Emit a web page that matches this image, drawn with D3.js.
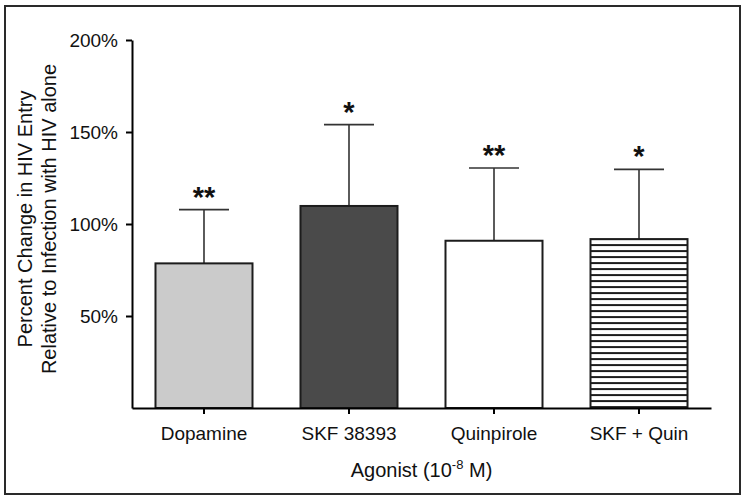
<!DOCTYPE html>
<html>
<head>
<meta charset="utf-8">
<script src="https://cdn.jsdelivr.net/npm/d3@7"></script>
<style>
  html, body { margin: 0; padding: 0; background: #fff; }
  svg text { font-family: "Liberation Sans", Arial, Helvetica, sans-serif; fill: #111; }
</style>
</head>
<body>
<svg id="chart" width="747" height="501"></svg>
<script>
// Data (percent of HIV-alone infection)
const agonists = ['Dopamine', 'SKF 38393', 'Quinpirole', 'SKF + Quin'];
const meanPct = [78.6, 109.8, 90.9, 91.8];
const errPct = [29.2, 44.2, 39.5, 37.9];
const stars = ['**', '*', '**', '*'];
const yTicks = [50, 100, 150, 200];

const BAR_FILLS = ['#cbcbcb', '#4a4a4a', '#ffffff', 'url(#stripes)'];
const INK = '#1c1c1c';

const svg = d3.select('#chart');

// outer frame
svg.append('rect')
  .attr('x', 5).attr('y', 6)
  .attr('width', 735).attr('height', 488)
  .attr('fill', 'none')
  .attr('stroke', '#2a2a2a')
  .attr('stroke-width', 2);

const x = d3.scaleBand()
  .domain(agonists)
  .range([132, 711])
  .paddingInner(0.331)
  .paddingOuter(0.162);

const y = d3.scaleLinear()
  .domain([0, 200])
  .range([408, 40]);

// horizontal stripe pattern for the combined agonist bar
const stripeTop = y(meanPct[3]);
const pat = svg.append('defs').append('pattern')
  .attr('id', 'stripes')
  .attr('patternUnits', 'userSpaceOnUse')
  .attr('x', 0).attr('y', stripeTop - 1)
  .attr('width', 8).attr('height', 6);
pat.append('rect').attr('width', 8).attr('height', 6).attr('fill', '#fff');
pat.append('rect').attr('y', 0).attr('width', 8).attr('height', 2).attr('fill', INK);

const g = svg.append('g');

// error bars (upper only), drawn first so bar outline sits on top
const errs = g.selectAll('.err')
  .data(agonists)
  .join('g')
  .attr('class', 'err');

errs.append('line')
  .attr('x1', d => x(d) + x.bandwidth() / 2)
  .attr('x2', d => x(d) + x.bandwidth() / 2)
  .attr('y1', (d, i) => y(meanPct[i]))
  .attr('y2', (d, i) => y(meanPct[i] + errPct[i]))
  .attr('stroke', '#333')
  .attr('stroke-width', 1.6);

errs.append('line')
  .attr('x1', d => x(d) + x.bandwidth() / 2 - 25)
  .attr('x2', d => x(d) + x.bandwidth() / 2 + 25)
  .attr('y1', (d, i) => y(meanPct[i] + errPct[i]))
  .attr('y2', (d, i) => y(meanPct[i] + errPct[i]))
  .attr('stroke', '#333')
  .attr('stroke-width', 1.6);

// bars
g.selectAll('.bar')
  .data(agonists)
  .join('rect')
  .attr('class', 'bar')
  .attr('x', d => x(d))
  .attr('y', (d, i) => y(meanPct[i]))
  .attr('width', x.bandwidth())
  .attr('height', (d, i) => y(0) - y(meanPct[i]))
  .attr('fill', (d, i) => BAR_FILLS[i])
  .attr('stroke', INK)
  .attr('stroke-width', 2);

// significance stars
g.selectAll('.star')
  .data(agonists)
  .join('text')
  .attr('class', 'star')
  .attr('x', d => x(d) + x.bandwidth() / 2)
  .attr('y', (d, i) => y(meanPct[i] + errPct[i]) - 3)
  .attr('text-anchor', 'middle')
  .attr('font-size', '29px')
  .attr('font-weight', 'bold')
  .text((d, i) => stars[i]);

// axes
const yAxis = svg.append('g')
  .attr('transform', 'translate(132,0)')
  .call(d3.axisLeft(y).tickValues(yTicks).tickFormat(d => d + '%')
    .tickSize(6).tickSizeOuter(0).tickPadding(8));

const xAxis = svg.append('g')
  .attr('transform', `translate(0,${y(0)})`)
  .call(d3.axisBottom(x).tickSize(6).tickSizeOuter(0).tickPadding(13));

[yAxis, xAxis].forEach(a => {
  a.select('.domain').attr('stroke', '#000').attr('stroke-width', 2);
  a.selectAll('.tick line').attr('stroke', '#000').attr('stroke-width', 2);
  a.selectAll('.tick text')
    .attr('font-family', '"Liberation Sans", Arial, sans-serif')
    .attr('font-size', '19px')
    .attr('fill', '#111');
});

// y axis title (two lines)
const yTitle = svg.append('text')
  .attr('transform', 'translate(32,219) rotate(-90)')
  .attr('text-anchor', 'middle')
  .attr('font-size', '20px');
yTitle.append('tspan').attr('x', 0).attr('y', 0).text('Percent Change in HIV Entry');
yTitle.append('tspan').attr('x', 0).attr('y', 24).text('Relative to Infection with HIV alone');

// x axis title with superscript
const xTitle = svg.append('text')
  .attr('x', (x.range()[0] + x.range()[1]) / 2)
  .attr('y', 477)
  .attr('text-anchor', 'middle')
  .attr('font-size', '20px');
xTitle.append('tspan').text('Agonist (10');
xTitle.append('tspan').attr('font-size', '13px').attr('dy', -8).text('-8');
xTitle.append('tspan').attr('dy', 8).text(' M)');
</script>
</body>
</html>
